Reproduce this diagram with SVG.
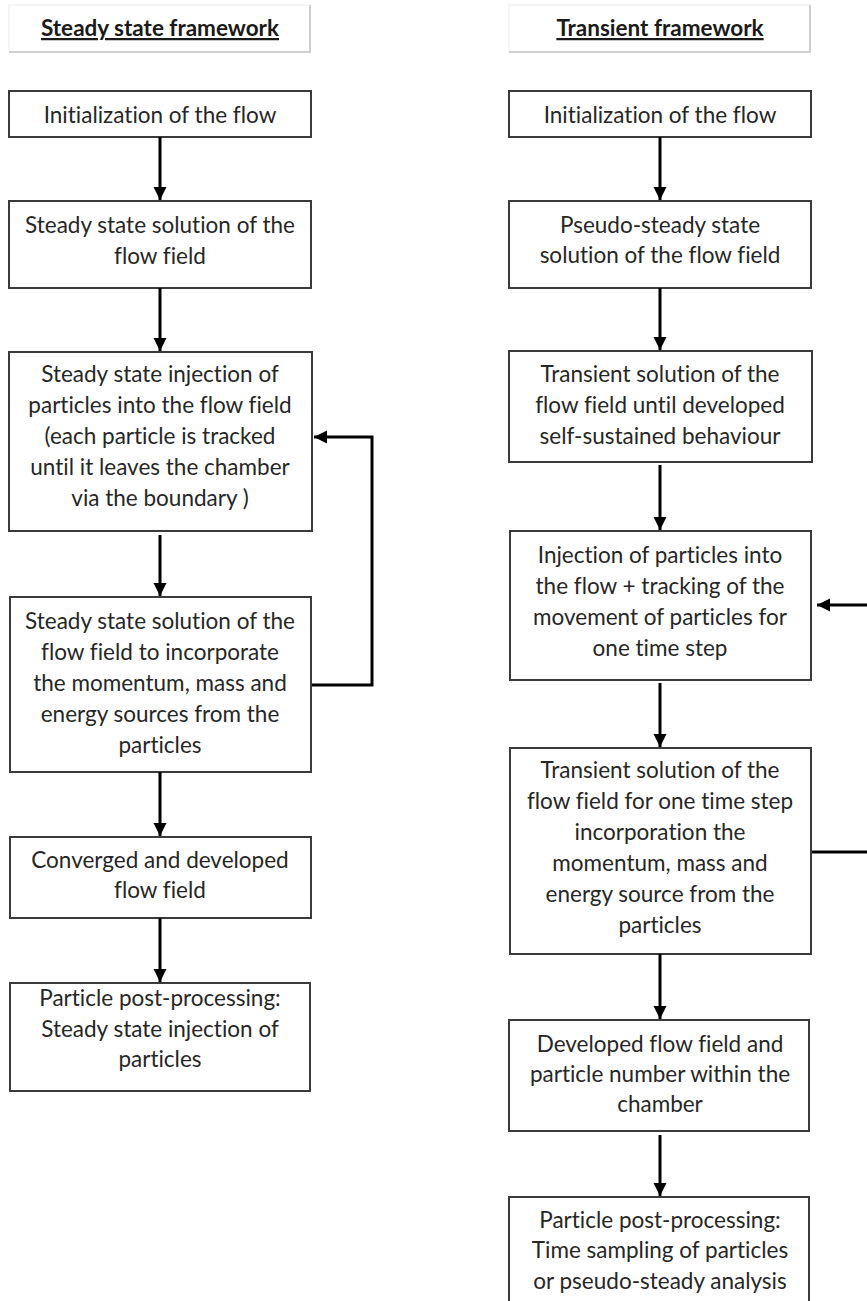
<svg xmlns="http://www.w3.org/2000/svg" width="867" height="1301" viewBox="0 0 867 1301">
<style>
.t{font-family:Lato,"Liberation Sans",sans-serif;font-size:22.5px;fill:#262626;text-anchor:middle;font-variant-ligatures:none}
.h{font-family:Lato,"Liberation Sans",sans-serif;font-size:22.5px;font-weight:bold;fill:#1a1a1a;text-anchor:middle;text-decoration:underline;font-variant-ligatures:none}
.b{fill:#fff;stroke:#3a3a3a;stroke-width:2}
.tb{fill:#fff;stroke:#ececec;stroke-width:1}
.sh{fill:none;stroke:#cfcfcf;stroke-width:2}
.c{fill:none;stroke:#000;stroke-width:3}
</style>
<defs>
<marker id="ah" markerUnits="userSpaceOnUse" markerWidth="14" markerHeight="14" refX="13" refY="7" orient="auto">
<path d="M0,0.5 L13,7 L0,13.5 z" fill="#000"/>
</marker>
</defs>
<rect width="867" height="1301" fill="#fff"/>
<g id="title-steady">
<rect class="tb" x="9" y="5" width="301" height="47"/>
<path class="sh" d="M310,5 V52 H9"/>
<text class="h" x="160" y="36">Steady state framework</text>
</g>
<g id="title-transient">
<rect class="tb" x="509" y="5" width="301" height="47"/>
<path class="sh" d="M810,5 V52 H509"/>
<text class="h" x="660" y="36">Transient framework</text>
</g>
<g id="s1"><rect class="b" x="9" y="91" width="302" height="46"/><text class="t" x="160" y="123">Initialization of the flow</text></g>
<g id="s2"><rect class="b" x="9" y="201" width="302" height="87"/><text class="t" x="160" y="233">Steady state solution of the</text><text class="t" x="160" y="264">flow field</text></g>
<g id="s3"><rect class="b" x="9" y="352" width="303" height="179"/><text class="t" x="160" y="382">Steady state injection of</text><text class="t" x="160" y="413">particles into the flow field</text><text class="t" x="160" y="444">(each particle is tracked</text><text class="t" x="160" y="475">until it leaves the chamber</text><text class="t" x="160" y="506">via the boundary )</text></g>
<g id="s4"><rect class="b" x="10" y="597" width="301" height="175"/><text class="t" x="160" y="629">Steady state solution of the</text><text class="t" x="160" y="660">flow field to incorporate</text><text class="t" x="160" y="691">the momentum, mass and</text><text class="t" x="160" y="722">energy sources from the</text><text class="t" x="160" y="753">particles</text></g>
<g id="s5"><rect class="b" x="10" y="837" width="301" height="81"/><text class="t" x="160" y="868">Converged and developed</text><text class="t" x="160" y="898">flow field</text></g>
<g id="s6"><rect class="b" x="10" y="983" width="300" height="108"/><text class="t" x="160" y="1006">Particle post-processing:</text><text class="t" x="160" y="1037">Steady state injection of</text><text class="t" x="160" y="1067">particles</text></g>
<g id="r1"><rect class="b" x="509" y="91" width="302" height="46"/><text class="t" x="660" y="123">Initialization of the flow</text></g>
<g id="r2"><rect class="b" x="509" y="201" width="302" height="87"/><text class="t" x="660" y="233">Pseudo-steady state</text><text class="t" x="660" y="263">solution of the flow field</text></g>
<g id="r3"><rect class="b" x="509" y="351" width="303" height="111"/><text class="t" x="660" y="382">Transient solution of the</text><text class="t" x="660" y="413">flow field until developed</text><text class="t" x="660" y="444">self-sustained behaviour</text></g>
<g id="r4"><rect class="b" x="510" y="531" width="301" height="149"/><text class="t" x="660" y="563">Injection of particles into</text><text class="t" x="660" y="594">the flow + tracking of the</text><text class="t" x="660" y="625">movement of particles for</text><text class="t" x="660" y="656">one time step</text></g>
<g id="r5"><rect class="b" x="510" y="748" width="301" height="206"/><text class="t" x="660" y="778">Transient solution of the</text><text class="t" x="660" y="809">flow field for one time step</text><text class="t" x="660" y="840">incorporation the</text><text class="t" x="660" y="871">momentum, mass and</text><text class="t" x="660" y="902">energy source from the</text><text class="t" x="660" y="933">particles</text></g>
<g id="r6"><rect class="b" x="509" y="1020" width="300" height="111"/><text class="t" x="660" y="1052">Developed flow field and</text><text class="t" x="660" y="1082">particle number within the</text><text class="t" x="660" y="1112">chamber</text></g>
<g id="r7"><rect class="b" x="509" y="1197" width="300" height="130"/><text class="t" x="660" y="1228">Particle post-processing:</text><text class="t" x="660" y="1258">Time sampling of particles</text><text class="t" x="660" y="1289">or pseudo-steady analysis</text></g>
<g id="connectors">
<line class="c" x1="160" y1="137" x2="160" y2="200" marker-end="url(#ah)"/>
<line class="c" x1="160" y1="288" x2="160" y2="351" marker-end="url(#ah)"/>
<line class="c" x1="160" y1="535" x2="160" y2="596" marker-end="url(#ah)"/>
<line class="c" x1="160" y1="772" x2="160" y2="836" marker-end="url(#ah)"/>
<line class="c" x1="160" y1="918" x2="160" y2="982" marker-end="url(#ah)"/>
<polyline class="c" points="312,685 372,685 372,437 314,437" marker-end="url(#ah)"/>
<line class="c" x1="660" y1="137" x2="660" y2="200" marker-end="url(#ah)"/>
<line class="c" x1="660" y1="288" x2="660" y2="350" marker-end="url(#ah)"/>
<line class="c" x1="660" y1="465" x2="660" y2="530" marker-end="url(#ah)"/>
<line class="c" x1="660" y1="683" x2="660" y2="747" marker-end="url(#ah)"/>
<line class="c" x1="660" y1="954" x2="660" y2="1019" marker-end="url(#ah)"/>
<line class="c" x1="660" y1="1135" x2="660" y2="1196" marker-end="url(#ah)"/>
<line class="c" x1="868" y1="605" x2="817" y2="605" marker-end="url(#ah)"/>
<line class="c" x1="812" y1="852" x2="868" y2="852"/>
</g>
</svg>
